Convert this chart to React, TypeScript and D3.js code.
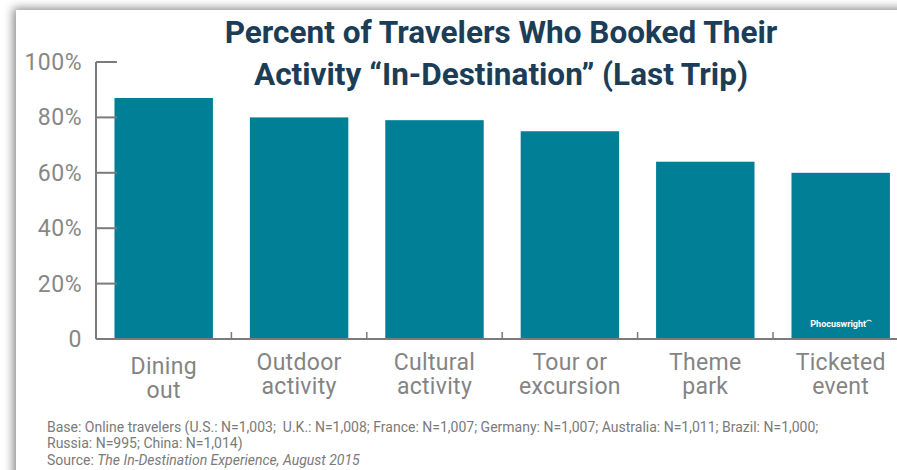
import { useEffect, useRef } from "react";
import * as d3 from "d3";

// chart data
const categories = [
  ["Dining", "out"],
  ["Outdoor", "activity"],
  ["Cultural", "activity"],
  ["Tour or", "excursion"],
  ["Theme", "park"],
  ["Ticketed", "event"],
];
const percents = [87, 80, 79, 75, 64, 60];
const yTicks = [0, 20, 40, 60, 80, 100];

const titleLines = ["Percent of Travelers Who Booked Their", "Activity \u201cIn-Destination\u201d (Last Trip)"];
const notes = [
  "Base: Online travelers (U.S.: N=1,003;  U.K.: N=1,008; France: N=1,007; Germany: N=1,007; Australia: N=1,011; Brazil: N=1,000;",
  "Russia: N=995; China: N=1,014)",
];

const W = 897;
const H = 470;

export default function App() {
  const svgRef = useRef<SVGSVGElement | null>(null);

  useEffect(() => {
    if (!svgRef.current) return;
    const svg = d3.select(svgRef.current);
    svg.html("");

    const font = "Roboto, 'Liberation Sans', sans-serif";

    // card with soft shadow
    const defs = svg.append("defs");
    const f = defs.append("filter").attr("id", "shadow").attr("x", "-10%").attr("y", "-10%").attr("width", "120%").attr("height", "120%");
    f.append("feDropShadow").attr("dx", -3).attr("dy", -2).attr("stdDeviation", 5).attr("flood-color", "#000").attr("flood-opacity", 0.45);

    svg.append("rect").attr("width", W).attr("height", H).attr("fill", "#ffffff");
    svg.append("rect")
      .attr("x", 16).attr("y", 10).attr("width", W + 40).attr("height", H + 40)
      .attr("fill", "#ffffff").attr("filter", "url(#shadow)");

    const x0 = 96;
    const step = 135.4;
    const x = d3.scaleBand<number>()
      .domain(d3.range(categories.length))
      .range([x0, x0 + step * categories.length])
      .paddingInner(0.273)
      .paddingOuter(0.1365);
    const y = d3.scaleLinear().domain([0, 100]).range([339, 62]);

    // title
    const title = svg.append("text")
      .attr("text-anchor", "middle")
      .attr("font-family", font).attr("font-weight", 700)
      .attr("font-size", 31.5).attr("fill", "#1b3d57");
    titleLines.forEach((t, i) => {
      title.append("tspan").attr("x", 501).attr("y", 43 + i * 42).text(t);
    });

    // bars
    svg.append("g").selectAll("rect")
      .data(percents)
      .join("rect")
      .attr("x", (_, i) => x(i)!)
      .attr("y", (d) => y(d))
      .attr("width", x.bandwidth())
      .attr("height", (d) => y(0) - y(d))
      .attr("fill", "#007f96");

    // y axis
    const axisColor = "#7b7b7b";
    const yAxis = svg.append("g");
    yAxis.append("line")
      .attr("x1", x0).attr("x2", x0).attr("y1", y(100)).attr("y2", y(0))
      .attr("stroke", axisColor).attr("stroke-width", 2);
    yAxis.selectAll("line.tick")
      .data(yTicks)
      .join("line")
      .attr("class", "tick")
      .attr("x1", x0).attr("x2", x0 + 21)
      .attr("y1", (d) => y(d)).attr("y2", (d) => y(d))
      .attr("stroke", axisColor).attr("stroke-width", 2);
    yAxis.selectAll("text")
      .data(yTicks)
      .join("text")
      .attr("x", 82)
      .attr("y", (d) => y(d) + 8)
      .attr("text-anchor", "end")
      .attr("font-family", font).attr("font-size", 23)
      .attr("letter-spacing", 0.5)
      .attr("fill", "#878787")
      .text((d) => (d === 0 ? "0" : d + "%"));

    // x axis
    const xAxis = svg.append("g");
    xAxis.append("line")
      .attr("x1", x0).attr("x2", W).attr("y1", y(0)).attr("y2", y(0))
      .attr("stroke", axisColor).attr("stroke-width", 2);
    xAxis.selectAll("line.tick")
      .data(d3.range(1, categories.length))
      .join("line")
      .attr("class", "tick")
      .attr("x1", (i) => x0 + i * x.step()).attr("x2", (i) => x0 + i * x.step())
      .attr("y1", y(0)).attr("y2", y(0) - 7)
      .attr("stroke", axisColor).attr("stroke-width", 1.5);

    const labels = xAxis.selectAll("text.cat")
      .data(categories)
      .join("text")
      .attr("class", "cat")
      .attr("text-anchor", "middle")
      .attr("font-family", font).attr("font-size", 23)
      .attr("letter-spacing", 0.3)
      .attr("fill", "#848484");
    labels.each(function (d, i) {
      const t = d3.select(this);
      const cx = x(i)! + x.bandwidth() / 2;
      const dy = i === 0 ? 4 : 0;
      d.forEach((line, j) => {
        t.append("tspan").attr("x", cx).attr("y", 370 + dy + j * 24).text(line);
      });
    });

    // watermark on last bar
    const last = categories.length - 1;
    svg.append("text")
      .attr("x", x(last)! + x.bandwidth() / 2)
      .attr("y", 327)
      .attr("text-anchor", "middle")
      .attr("font-family", font).attr("font-weight", 700)
      .attr("font-size", 9).attr("fill", "#ffffff")
      .text("Phocuswright\u2040");

    // footnotes
    const foot = svg.append("text")
      .attr("font-family", font).attr("font-size", 14)
      .attr("fill", "#7a7a7a")
      .style("white-space", "pre");
    notes.forEach((n, i) => {
      foot.append("tspan").attr("x", 47).attr("y", 432 + i * 16).text(n);
    });
    const src = foot.append("tspan").attr("x", 47).attr("y", 465);
    src.text("Source: ");
    foot.append("tspan").attr("font-style", "italic").text("The In-Destination Experience, August 2015");
  }, []);

  return (
    <div style={{ position: "fixed", left: 0, top: 0, width: W, height: H, overflow: "hidden" }}>
      <svg ref={svgRef} width={W} height={H}></svg>
    </div>
  );
}
